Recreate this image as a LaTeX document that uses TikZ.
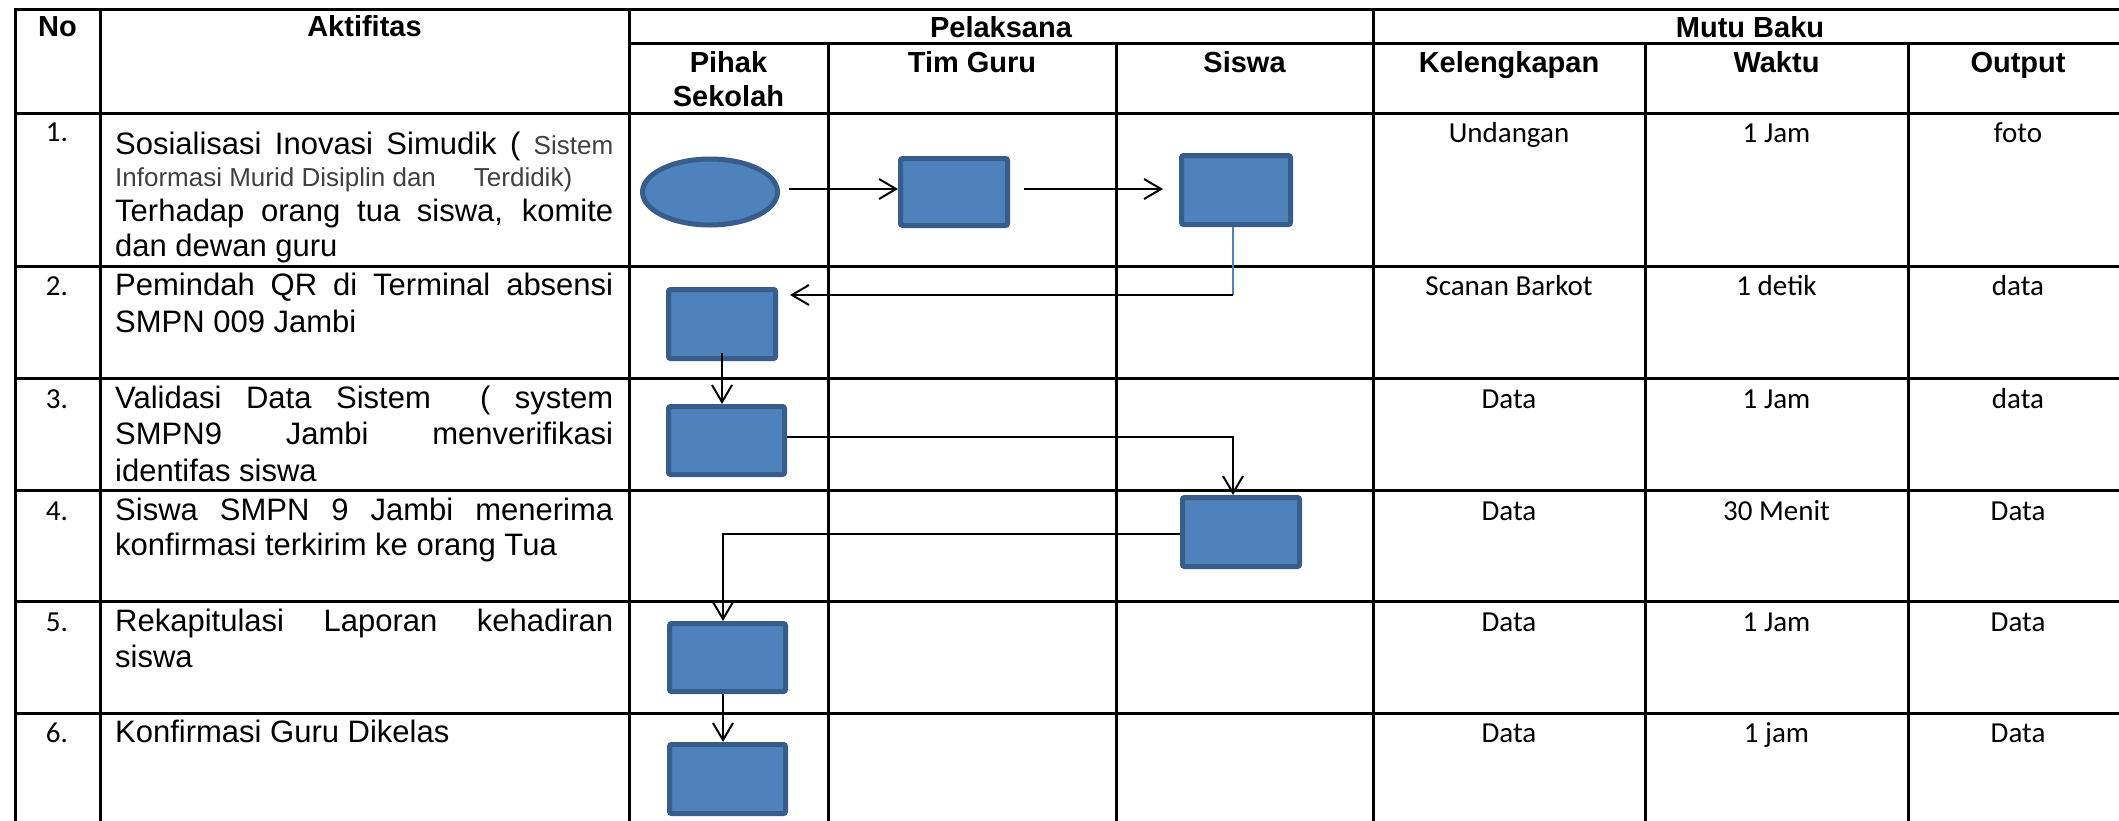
\documentclass[tikz,border=0pt]{standalone}
\usepackage{fontspec}
\setmainfont{Liberation Sans}
\newfontfamily\calib{Carlito}
\usetikzlibrary{arrows.meta,shapes.geometric}
\definecolor{boxfill}{HTML}{4F81BD}
\definecolor{boxline}{HTML}{385D8A}
\definecolor{smallgray}{HTML}{404040}
\newcommand{\jl}[1]{\makebox[498pt][s]{#1}}
\newcommand{\smallf}{\fontsize{26pt}{30pt}\selectfont\color{smallgray}}
\begin{document}
\begin{tikzpicture}[x=1pt,y=-1pt,
  tbl/.style={line width=3pt, line cap=rect},
  hdr/.style={anchor=base, inner sep=0pt, font=\bfseries\fontsize{29pt}{34pt}\selectfont},
  cell/.style={anchor=base, inner sep=0pt, font=\calib\fontsize{29pt}{34pt}\selectfont},
  body/.style={anchor=base west, inner sep=0pt, font=\fontsize{31pt}{36pt}\selectfont},
  procbox/.style={rectangle, rounded corners=2pt, draw=boxline, fill=boxfill, line width=5pt, inner sep=0pt},
  startell/.style={ellipse, draw=boxline, fill=boxfill, line width=5pt, inner sep=0pt, minimum width=135pt, minimum height=66pt},
  flow/.style={line width=2pt, draw=black, -{Straight Barb[length=17pt,width=20pt]}},
  blueline/.style={line width=1.5pt, draw=boxfill},
]
\useasboundingbox (0,0) rectangle (2119,820);
\fill[white] (0,0) rectangle (2119,820);

% ---------- table grid ----------
\foreach \yy in {9,113,266,378,490,601,713}
  \draw[tbl] (15,\yy) -- (2135,\yy);
\draw[tbl] (629,43) -- (2135,43);
\foreach \xx in {15,100,629,1373}
  \draw[tbl] (\xx,9) -- (\xx,830);
\foreach \xx in {828,1116,1645,1908}
  \draw[tbl] (\xx,43) -- (\xx,830);

% ---------- headers ----------
\node[hdr] (hNo) at (57.5,36) {No};
\node[hdr] (hAkt) at (364.5,36) {Aktifitas};
\node[hdr] (hPel) at (1001,37) {Pelaksana};
\node[hdr] (hMutu) at (1750,37) {Mutu Baku};
\node[hdr] (hPihak) at (728.5,72) {Pihak};
\node[hdr] (hSek) at (728.5,106) {Sekolah};
\node[hdr] (hTim) at (972,72) {Tim Guru};
\node[hdr] (hSiswa) at (1244.5,72) {Siswa};
\node[hdr] (hKel) at (1509,72) {Kelengkapan};
\node[hdr] (hWak) at (1776.5,72) {Waktu};
\node[hdr] (hOut) at (2018,72) {Output};

% ---------- numbers ----------
\node[cell] (n1) at (57,141) {1.};
\node[cell] (n2) at (57,295) {2.};
\node[cell] (n3) at (57,408) {3.};
\node[cell] (n4) at (57,520) {4.};
\node[cell] (n5) at (57,631) {5.};
\node[cell] (n6) at (57,742) {6.};

% ---------- activities ----------
\node[body] (a1a) at (115,154) {\jl{Sosialisasi Inovasi Simudik ( {\smallf Sistem}}};
\node[body] (a1b) at (115,186) {\smallf Informasi Murid Disiplin dan\hspace{38pt}Terdidik)};
\node[body] (a1c) at (115,221) {\jl{Terhadap orang tua siswa, komite}};
\node[body] (a1d) at (115,256) {dan dewan guru};
\node[body] (a2a) at (115,295) {\jl{Pemindah QR di Terminal absensi}};
\node[body] (a2b) at (115,332) {SMPN 009 Jambi};
\node[body] (a3a) at (115,408) {\jl{Validasi Data Sistem\ \ ( system}};
\node[body] (a3b) at (115,444) {\jl{SMPN9 Jambi menverifikasi}};
\node[body] (a3c) at (115,481) {identifas siswa};
\node[body] (a4a) at (115,520) {\jl{Siswa SMPN 9 Jambi menerima}};
\node[body] (a4b) at (115,555) {konfirmasi terkirim ke orang Tua};
\node[body] (a5a) at (115,631) {\jl{Rekapitulasi Laporan kehadiran}};
\node[body] (a5b) at (115,667) {siswa};
\node[body] (a6a) at (115,742) {Konfirmasi Guru Dikelas};

% ---------- mutu baku ----------
\node[cell] (k1) at (1509,142) {Undangan};
\node[cell] (w1) at (1776.5,142) {1 Jam};
\node[cell] (o1) at (2018,142) {foto};
\node[cell] (k2) at (1509,295) {Scanan Barkot};
\node[cell] (w2) at (1776.5,295) {1 detik};
\node[cell] (o2) at (2018,295) {data};
\node[cell] (k3) at (1509,408) {Data};
\node[cell] (w3) at (1776.5,408) {1 Jam};
\node[cell] (o3) at (2018,408) {data};
\node[cell] (k4) at (1509,520) {Data};
\node[cell] (w4) at (1776.5,520) {30 Menit};
\node[cell] (o4) at (2018,520) {Data};
\node[cell] (k5) at (1509,631) {Data};
\node[cell] (w5) at (1776.5,631) {1 Jam};
\node[cell] (o5) at (2018,631) {Data};
\node[cell] (k6) at (1509,742) {Data};
\node[cell] (w6) at (1776.5,742) {1 jam};
\node[cell] (o6) at (2018,742) {Data};

% ---------- flow shapes ----------
\node[startell] (e1) at (710,192) {};
\node[procbox, minimum width=107pt, minimum height=67pt] (b2) at (954,192) {};
\node[procbox, minimum width=109pt, minimum height=69pt] (b3) at (1236,190) {};
\node[procbox, minimum width=107pt, minimum height=69pt] (b4) at (722,324) {};
\node[procbox, minimum width=116pt, minimum height=68pt] (b5) at (726.5,440.5) {};
\node[procbox, minimum width=117pt, minimum height=69pt] (b6) at (1241,532) {};
\node[procbox, minimum width=116pt, minimum height=68pt] (b7) at (727.5,657.5) {};
\node[procbox, minimum width=116pt, minimum height=69pt] (b8) at (727.5,779) {};

% ---------- connectors ----------
\draw[flow, shorten <=9pt] ([yshift=3pt]e1.east) -- ([yshift=3pt]b2.west);
\draw[flow, shorten <=14pt, shorten >=16pt] ([yshift=3pt]b2.east) -- ([yshift=3pt]b2.east -| b3.west);
\coordinate (c1) at (1233,295);
\draw[blueline] ([xshift=-3pt]b3.south) -- ([xshift=-3pt]b3.south |- c1);
\draw[flow, shorten >=12pt] (c1) -- (c1 -| b4.east);
\draw[flow, shorten <=-8pt] (b4.south) -- (b4.south |- b5.north);
\draw[flow] ([yshift=3.5pt]b5.east) -| ([xshift=-8pt]b6.north);
\draw[flow] ([yshift=-2pt]b6.west) -| ([xshift=-4.5pt]b7.north);
\draw[flow] ([xshift=-4.5pt]b7.south) -- ([xshift=-4.5pt]b8.north);
\end{tikzpicture}
\end{document}
